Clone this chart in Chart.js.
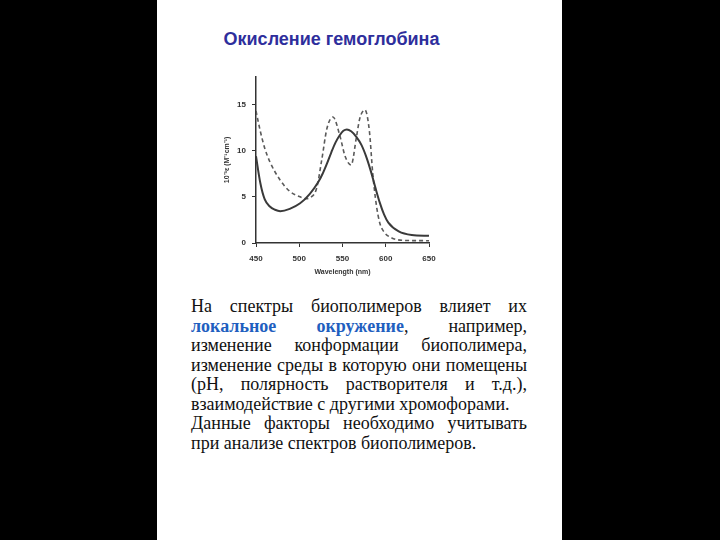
<!DOCTYPE html>
<html>
<head>
<meta charset="utf-8">
<script src="https://cdn.jsdelivr.net/npm/chart.js@4.4.0/dist/chart.umd.min.js"></script>
<style>
  body { margin: 0; background: #000; width: 720px; height: 540px; overflow: hidden; position: relative; }
  #page { position: absolute; left: 157px; top: 0; width: 405px; height: 540px; background: #fff; }
  #title { position: absolute; left: 160px; width: 343px; top: 29px; text-align: center;
    font: bold 18px "Liberation Sans", Arial, sans-serif; color: #2e2e9c; }
  #wrap { position: absolute; left: 222px; top: 66px; width: 223px; height: 210px; }
  #text { position: absolute; left: 191px; top: 297px; width: 336px;
    font: 18px "Liberation Serif", "Times New Roman", serif; line-height: 19.5px; color: #111; }
  #text div { text-align: justify; text-align-last: justify; white-space: nowrap; }
  #text div.last { text-align-last: left; }
  .hl { color: #1f5fc0; font-weight: bold; }
</style>
</head>
<body>
<div id="page"></div>
<div id="title">Окисление гемоглобина</div>
<div id="wrap"><canvas id="myChart"></canvas></div>
<div id="text">
  <div>На спектры биополимеров влияет их</div>
  <div><span class="hl">локальное</span> <span class="hl">окружение</span>, например,</div>
  <div>изменение конформации биополимера,</div>
  <div>изменение среды в которую они помещены</div>
  <div>(pH, полярность растворителя и т.д.),</div>
  <div class="last">взаимодействие с другими хромофорами.</div>
  <div>Данные факторы необходимо учитывать</div>
  <div class="last">при анализе спектров биополимеров.</div>
</div>
<script>
// deoxy (solid) curve
const solidWl = [450, 455, 460, 466, 472, 478, 489, 501, 512, 522, 527, 532, 537, 542, 547, 551, 555, 560, 566, 572, 578, 583, 588, 593, 598, 603, 615, 630, 650];
const solidEps = [9.4, 6.5, 4.75, 3.95, 3.6, 3.45, 3.7, 4.3, 5.3, 6.6, 7.5, 8.6, 9.8, 10.9, 11.7, 12.15, 12.3, 12.1, 11.5, 10.6, 9.2, 7.7, 6.0, 4.4, 3.1, 2.2, 1.25, 0.86, 0.78];

// oxy (dashed) curve
const dashWl = [450, 455, 460, 466, 478, 489, 501, 507, 512, 520, 526, 532, 539, 547, 553, 560, 566, 570, 576, 581, 585, 589, 593, 598, 607, 622, 650];
const dashEps = [14.3, 12.1, 10.3, 8.8, 6.8, 5.6, 5.0, 4.8, 4.9, 5.9, 9.0, 12.4, 13.65, 11.6, 9.4, 8.45, 11.4, 13.5, 14.4, 12.2, 7.5, 4.2, 2.2, 1.2, 0.55, 0.28, 0.25];

const xTicks = [450, 500, 550, 600, 650];
const yTicks = [0, 5, 10, 15];

const toPoints = (xs, ys) => xs.map((x, i) => ({ x: x, y: ys[i] }));

const tickFont = { family: '"Liberation Sans", Arial, sans-serif', size: 8, weight: 'bold' };
const titleFont = { family: '"Liberation Sans", Arial, sans-serif', size: 7, weight: 'bold' };

const ctx = document.getElementById('myChart').getContext('2d');
const myChart = new Chart(ctx, {
  type: 'line',
  data: {
    datasets: [{
      label: 'deoxy',
      data: toPoints(solidWl, solidEps),
      borderColor: '#3a3a3a',
      borderWidth: 2,
      pointRadius: 0,
      cubicInterpolationMode: 'monotone',
      fill: false
    }, {
      label: 'oxy',
      data: toPoints(dashWl, dashEps),
      borderColor: '#5a5a5a',
      borderWidth: 1.6,
      borderDash: [4, 3],
      pointRadius: 0,
      cubicInterpolationMode: 'monotone',
      fill: false
    }]
  },
  options: {
    responsive: true,
    maintainAspectRatio: false,
    animation: false,
    layout: { padding: { top: 10, right: 16 } },
    plugins: { legend: { display: false }, tooltip: { enabled: false } },
    scales: {
      x: {
        type: 'linear',
        min: 450,
        max: 650,
        afterBuildTicks: (scale) => { scale.ticks = xTicks.map(v => ({ value: v })); },
        afterFit: (scale) => { scale.height = 33; },
        grid: { drawOnChartArea: false, drawTicks: true, tickLength: 4, color: '#333' },
        border: { display: true, color: '#333', width: 1.5 },
        ticks: { font: tickFont, color: '#333', padding: 7, maxRotation: 0 },
        title: { display: true, text: 'Wavelength (nm)', font: titleFont, color: '#333', padding: 0 }
      },
      y: {
        min: 0,
        max: 18,
        afterBuildTicks: (scale) => { scale.ticks = yTicks.map(v => ({ value: v })); },
        afterFit: (scale) => { scale.width = 34; },
        grid: { drawOnChartArea: false, drawTicks: true, tickLength: 4, color: '#333' },
        border: { display: true, color: '#333', width: 1.5 },
        ticks: { font: tickFont, color: '#333', padding: 6 },
        title: { display: true, text: '10⁻³ε (M⁻¹cm⁻¹)', font: titleFont, color: '#333', padding: 1 }
      }
    }
  }
});
</script>
</body>
</html>
